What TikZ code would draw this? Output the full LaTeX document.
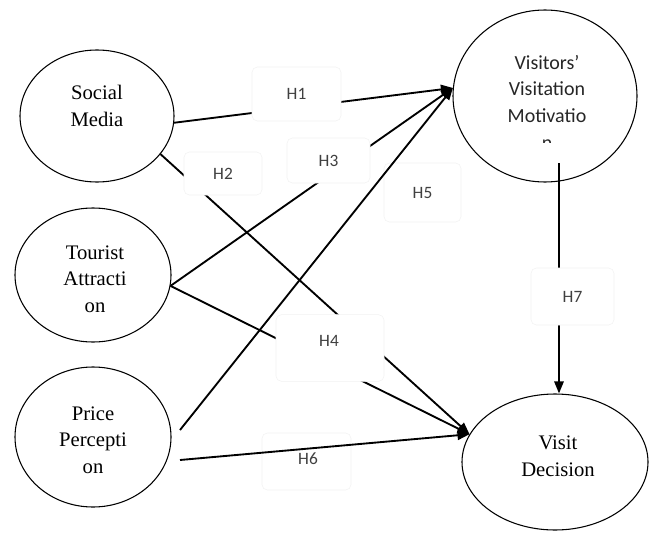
\documentclass[tikz,border=0pt]{standalone}
\usepackage{fontspec}
\setmainfont{Liberation Serif}
\newfontfamily\carlito{Carlito}
\usetikzlibrary{shapes.geometric,arrows.meta}
\begin{document}
\begin{tikzpicture}[x=0.75pt,y=-0.75pt,
  ell/.style={ellipse,draw,line width=0.8pt,inner sep=0pt},
  serif/.style={align=center,inner sep=0pt,font=\fontsize{15.5}{20}\selectfont},
  sanstext/.style={align=center,inner sep=0pt,font=\carlito\fontsize{15}{20}\selectfont,text=black!85},
  htext/.style={inner sep=0pt,font=\carlito\fontsize{13}{15}\selectfont,text=black!75},
  hbox/.style={draw=black!5,fill=white,rounded corners=4pt,inner sep=0pt,htext},
  conn/.style={line width=1.4pt,-{Triangle[length=9pt,width=7pt]}}]
\useasboundingbox (0,0) rectangle (649,535);

% constructs
\node[ell,minimum width=115.5pt,minimum height=99pt] (sm) at (97,116) {};
\node[serif] (smt) at (97,106) {Social\\Media};
\node[ell,minimum width=117pt,minimum height=100.5pt] (ta) at (93,275) {};
\node[serif] (tat) at (95,279) {Tourist\\Attracti\\on};
\node[ell,minimum width=117pt,minimum height=105pt] (pp) at (93,437) {};
\node[serif] (ppt) at (93,440) {Price\\Percepti\\on};
\node[ell,minimum width=138pt,minimum height=129pt] (vm) at (545,96) {};
\begin{scope}
  \clip (450,0) rectangle (649,142);
  \node[sanstext] (vmt) at (547,102) {Visitors’\\Visitation\\Motivatio\\n};
\end{scope}
\node[ell,minimum width=139.5pt,minimum height=102pt] (vd) at (555,462) {};
\node[serif] (vdt) at (558,456) {Visit\\Decision};

% free ends
\coordinate (p5) at (180,430);
\coordinate (p6) at (180,460);
\coordinate (v7) at (559,163);

% label boxes under the lines
\node[hbox,minimum width=57.75pt,minimum height=44.25pt] (h5) at (422.5,192.5) {H5};
\node[hbox,minimum width=66.75pt,minimum height=42.75pt] (h6) at (306.5,461.5) {};
\node[htext] (h6t) at (308,459) {H6};

% connectors
\draw[conn] (sm.-5) -- (vm.175);
\draw[conn] (sm.-31) -- (vd.162);
\draw[conn] (ta.-8) -- (vm.175);
\draw[conn] (ta.-8) -- (vd.162);
\draw[conn] (p5) -- (vm.175);
\draw[conn] (p6) -- (vd.162);
\draw[conn] (v7) -- (vd.north -| v7);

% label boxes over the lines
\node[hbox,minimum width=66.75pt,minimum height=40.5pt] (h1) at (296.5,94) {H1};
\node[hbox,minimum width=58.5pt,minimum height=32.25pt] (h2) at (223,173.5) {H2};
\node[hbox,minimum width=62.25pt,minimum height=33.75pt] (h3) at (328.5,160.5) {H3};
\node[hbox,minimum width=81pt,minimum height=50pt] (h4) at (330,348) {};
\node[htext] (h4t) at (329,341) {H4};
\node[hbox,minimum width=62.25pt,minimum height=42.75pt] (h7) at (572.5,296.5) {H7};
\end{tikzpicture}
\end{document}
